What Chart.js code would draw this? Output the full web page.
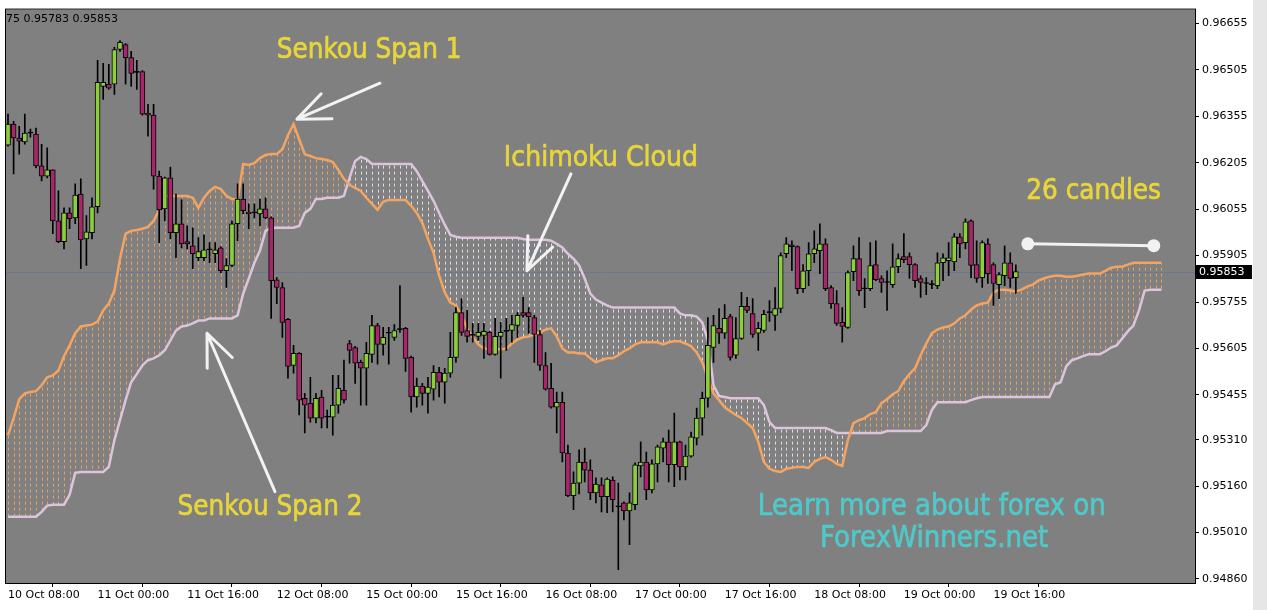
<!DOCTYPE html>
<html>
<head>
<meta charset="utf-8">
<title>Ichimoku Cloud</title>
<script src="https://cdn.jsdelivr.net/npm/chart.js@4.4.1/dist/chart.umd.min.js"></script>
<style>
  html, body { margin: 0; padding: 0; background: #fff; }
  canvas { display: block; }
</style>
</head>
<body>
<canvas id="chart" width="1267" height="610"></canvas>
<script>
// H1 candles
const opens = [
  0.96262,0.96330,0.96285,0.96272,0.96301,0.96298,0.96195,0.96162,0.96182,0.96017,
  0.95950,0.96043,0.96027,0.96104,0.95959,0.95979,0.96063,0.96452,0.96459,0.96459,
  0.96571,0.96587,0.96545,0.96497,0.96500,0.96365,0.96359,0.96162,0.96056,0.96156,
  0.95979,0.96008,0.95950,0.95937,0.95898,0.95898,0.95924,0.95911,0.95930,0.95856,
  0.95873,0.96008,0.96088,0.96046,0.96043,0.96040,0.96056,0.96027,0.95827,0.95802,
  0.95699,0.95550,0.95589,0.95444,0.95428,0.95380,0.95448,0.95383,0.95383,0.95422,
  0.95470,0.95621,0.95608,0.95560,0.95541,0.95586,0.95679,0.95618,0.95654,0.95641,
  0.95666,0.95670,0.95576,0.95448,0.95483,0.95460,0.95473,0.95528,0.95496,0.95525,
  0.95576,0.95721,0.95663,0.95647,0.95644,0.95647,0.95657,0.95586,0.95644,0.95660,
  0.95663,0.95679,0.95721,0.95721,0.95705,0.95650,0.95550,0.95476,0.95415,0.95431,
  0.95267,0.95129,0.95170,0.95238,0.95212,0.95138,0.95164,0.95126,0.95180,0.95093,
  0.95106,0.95080,0.95100,0.95225,0.95238,0.95148,0.95232,0.95283,0.95303,0.95229,
  0.95303,0.95222,0.95257,0.95315,0.95380,0.95444,0.95608,0.95670,0.95654,0.95708,
  0.95583,0.95637,0.95741,0.95718,0.95654,0.95663,0.95721,0.95712,0.95734,0.95911,
  0.95940,0.95934,0.95798,0.95856,0.95911,0.95921,0.95943,0.95802,0.95750,0.95689,
  0.95673,0.95853,0.95895,0.95798,0.95798,0.95876,0.95831,0.95818,0.95811,0.95869,
  0.95902,0.95902,0.95876,0.95831,0.95815,0.95811,0.95808,0.95882,0.95889,0.95885,
  0.95966,0.95947,0.96017,0.95876,0.95834,0.95943,0.95876,0.95811,0.95840,0.95882,
  0.95834
];
const highs = [
  0.96362,0.96339,0.96323,0.96362,0.96314,0.96317,0.96265,0.96253,0.96182,0.96114,
  0.96059,0.96059,0.96137,0.96153,0.96034,0.96092,0.96536,0.96526,0.96523,0.96578,
  0.96600,0.96590,0.96565,0.96536,0.96503,0.96394,0.96394,0.96178,0.96159,0.96191,
  0.96104,0.96085,0.96001,0.95995,0.95963,0.95972,0.95947,0.95947,0.95934,0.95895,
  0.96017,0.96137,0.96137,0.96072,0.96072,0.96088,0.96092,0.96030,0.95834,0.95818,
  0.95702,0.95615,0.95592,0.95460,0.95512,0.95460,0.95470,0.95406,0.95518,0.95518,
  0.95567,0.95631,0.95612,0.95567,0.95625,0.95712,0.95686,0.95673,0.95673,0.95682,
  0.95808,0.95673,0.95580,0.95509,0.95492,0.95512,0.95550,0.95544,0.95541,0.95657,
  0.95737,0.95766,0.95728,0.95686,0.95686,0.95686,0.95660,0.95702,0.95689,0.95702,
  0.95712,0.95721,0.95770,0.95737,0.95712,0.95663,0.95592,0.95557,0.95464,0.95464,
  0.95293,0.95206,0.95277,0.95283,0.95245,0.95187,0.95187,0.95187,0.95190,0.95170,
  0.95109,0.95138,0.95235,0.95303,0.95270,0.95245,0.95293,0.95315,0.95341,0.95396,
  0.95306,0.95293,0.95335,0.95412,0.95464,0.95705,0.95712,0.95734,0.95747,0.95715,
  0.95705,0.95786,0.95770,0.95766,0.95689,0.95728,0.95760,0.95802,0.95914,0.95963,
  0.95953,0.95937,0.95876,0.95947,0.95985,0.96008,0.95959,0.95808,0.95792,0.95737,
  0.95856,0.95937,0.95963,0.95831,0.95947,0.95953,0.95840,0.95856,0.95943,0.95911,
  0.95976,0.95914,0.95879,0.95840,0.95834,0.95824,0.95914,0.95911,0.95947,0.95976,
  0.95976,0.96024,0.96021,0.95953,0.95953,0.95959,0.95882,0.95850,0.95937,0.95914,
  0.95875
];
const lows = [
  0.96259,0.96169,0.96233,0.96265,0.96288,0.96188,0.96146,0.96156,0.95976,0.95947,
  0.95927,0.95992,0.96008,0.95863,0.95873,0.95959,0.96043,0.96410,0.96442,0.96426,
  0.96565,0.96459,0.96452,0.96442,0.96359,0.96291,0.96120,0.95947,0.96017,0.95959,
  0.95898,0.95930,0.95927,0.95863,0.95889,0.95889,0.95882,0.95882,0.95850,0.95802,
  0.95869,0.95953,0.96040,0.95992,0.96027,0.96001,0.96024,0.95702,0.95750,0.95641,
  0.95509,0.95525,0.95390,0.95332,0.95367,0.95364,0.95348,0.95348,0.95325,0.95396,
  0.95428,0.95557,0.95492,0.95422,0.95422,0.95560,0.95554,0.95583,0.95554,0.95631,
  0.95657,0.95531,0.95399,0.95415,0.95422,0.95396,0.95438,0.95448,0.95428,0.95512,
  0.95560,0.95647,0.95625,0.95625,0.95631,0.95573,0.95583,0.95583,0.95509,0.95599,
  0.95625,0.95641,0.95705,0.95654,0.95560,0.95534,0.95470,0.95412,0.95332,0.95238,
  0.95126,0.95084,0.95135,0.95174,0.95116,0.95106,0.95077,0.95074,0.95077,0.94890,
  0.95051,0.94971,0.95084,0.95190,0.95116,0.95138,0.95174,0.95238,0.95174,0.95158,
  0.95180,0.95180,0.95254,0.95293,0.95325,0.95415,0.95560,0.95621,0.95637,0.95567,
  0.95573,0.95634,0.95721,0.95641,0.95599,0.95657,0.95692,0.95663,0.95721,0.95898,
  0.95856,0.95782,0.95786,0.95808,0.95882,0.95847,0.95792,0.95734,0.95679,0.95625,
  0.95670,0.95824,0.95776,0.95737,0.95792,0.95824,0.95786,0.95728,0.95802,0.95850,
  0.95882,0.95831,0.95802,0.95770,0.95779,0.95798,0.95798,0.95824,0.95840,0.95856,
  0.95898,0.95927,0.95834,0.95818,0.95802,0.95815,0.95744,0.95766,0.95808,0.95802,
  0.95783
];
const closes = [
  0.96330,0.96285,0.96275,0.96301,0.96301,0.96195,0.96162,0.96182,0.96017,0.95950,
  0.96043,0.96024,0.96101,0.95956,0.95982,0.96063,0.96465,0.96465,0.96446,0.96571,
  0.96594,0.96545,0.96494,0.96497,0.96362,0.96359,0.96162,0.96053,0.96156,0.95979,
  0.96008,0.95943,0.95943,0.95911,0.95918,0.95924,0.95924,0.95924,0.95856,0.95873,
  0.96008,0.96088,0.96050,0.96040,0.96043,0.96056,0.96027,0.95824,0.95802,0.95689,
  0.95547,0.95589,0.95438,0.95422,0.95380,0.95444,0.95380,0.95383,0.95422,0.95476,
  0.95438,0.95599,0.95557,0.95541,0.95589,0.95679,0.95618,0.95641,0.95654,0.95663,
  0.95666,0.95573,0.95448,0.95483,0.95460,0.95480,0.95528,0.95496,0.95525,0.95576,
  0.95721,0.95657,0.95644,0.95647,0.95657,0.95660,0.95586,0.95644,0.95657,0.95660,
  0.95682,0.95712,0.95712,0.95708,0.95650,0.95550,0.95473,0.95415,0.95431,0.95267,
  0.95129,0.95170,0.95238,0.95212,0.95138,0.95167,0.95126,0.95183,0.95116,0.95093,
  0.95080,0.95106,0.95229,0.95238,0.95148,0.95232,0.95287,0.95303,0.95229,0.95303,
  0.95222,0.95257,0.95319,0.95380,0.95444,0.95615,0.95679,0.95654,0.95702,0.95576,
  0.95637,0.95741,0.95728,0.95650,0.95670,0.95715,0.95721,0.95734,0.95905,0.95943,
  0.95934,0.95798,0.95856,0.95911,0.95927,0.95943,0.95798,0.95750,0.95686,0.95676,
  0.95850,0.95895,0.95792,0.95798,0.95873,0.95827,0.95818,0.95818,0.95869,0.95895,
  0.95892,0.95876,0.95824,0.95818,0.95815,0.95811,0.95882,0.95898,0.95898,0.95966,
  0.95943,0.96014,0.95873,0.95831,0.95947,0.95847,0.95815,0.95844,0.95882,0.95831,
  0.95853
];

// Senkou spans, shifted 26 bars ahead of the last candle
const spanA = [
  0.95325,0.95380,0.95441,0.95460,0.95464,0.95467,0.95486,0.95512,0.95518,0.95534,
  0.95580,0.95615,0.95654,0.95676,0.95679,0.95682,0.95692,0.95728,0.95750,0.95792,
  0.95895,0.95976,0.95985,0.95988,0.95992,0.95998,0.96017,0.96053,0.96098,0.96098,
  0.96098,0.96098,0.96098,0.96092,0.96059,0.96092,0.96114,0.96127,0.96120,0.96098,
  0.96088,0.96085,0.96201,0.96198,0.96204,0.96220,0.96230,0.96233,0.96233,0.96249,
  0.96294,0.96330,0.96281,0.96233,0.96227,0.96220,0.96217,0.96214,0.96207,0.96182,
  0.96153,0.96133,0.96124,0.96114,0.96092,0.96072,0.96053,0.96079,0.96085,0.96085,
  0.96085,0.96085,0.96066,0.96043,0.96011,0.95959,0.95914,0.95840,0.95786,0.95753,
  0.95744,0.95712,0.95670,0.95641,0.95618,0.95605,0.95602,0.95602,0.95602,0.95605,
  0.95621,0.95634,0.95641,0.95644,0.95650,0.95657,0.95666,0.95670,0.95644,0.95605,
  0.95592,0.95592,0.95589,0.95589,0.95573,0.95560,0.95567,0.95573,0.95573,0.95583,
  0.95596,0.95605,0.95618,0.95625,0.95625,0.95625,0.95625,0.95618,0.95625,0.95628,
  0.95628,0.95621,0.95612,0.95592,0.95560,0.95509,0.95460,0.95438,0.95415,0.95402,
  0.95390,0.95380,0.95364,0.95348,0.95303,0.95238,0.95216,0.95209,0.95206,0.95216,
  0.95219,0.95222,0.95222,0.95219,0.95238,0.95248,0.95254,0.95245,0.95232,0.95225,
  0.95309,0.95364,0.95373,0.95380,0.95393,0.95399,0.95428,0.95441,0.95457,0.95467,
  0.95499,0.95522,0.95541,0.95583,0.95621,0.95654,0.95666,0.95673,0.95676,0.95686,
  0.95702,0.95712,0.95731,0.95744,0.95750,0.95753,0.95786,0.95795,0.95795,0.95792,
  0.95789,0.95795,0.95805,0.95811,0.95824,0.95831,0.95837,0.95840,0.95840,0.95837,
  0.95837,0.95840,0.95844,0.95847,0.95847,0.95847,0.95856,0.95866,0.95869,0.95869,
  0.95876,0.95882,0.95882,0.95882,0.95882,0.95882,0.95882
];
const spanB = [
  0.95061,0.95061,0.95061,0.95061,0.95061,0.95061,0.95077,0.95097,0.95100,0.95100,
  0.95100,0.95132,0.95203,0.95206,0.95206,0.95206,0.95206,0.95206,0.95222,0.95309,
  0.95373,0.95438,0.95496,0.95522,0.95550,0.95567,0.95573,0.95583,0.95599,0.95631,
  0.95663,0.95676,0.95679,0.95686,0.95695,0.95695,0.95702,0.95702,0.95702,0.95702,
  0.95702,0.95712,0.95782,0.95831,0.95882,0.95921,0.95985,0.95995,0.95995,0.95995,
  0.95995,0.95995,0.96001,0.96043,0.96056,0.96088,0.96088,0.96092,0.96092,0.96092,
  0.96098,0.96156,0.96211,0.96224,0.96217,0.96201,0.96201,0.96201,0.96201,0.96201,
  0.96201,0.96201,0.96201,0.96178,0.96146,0.96114,0.96082,0.96043,0.96005,0.95972,
  0.95966,0.95963,0.95963,0.95963,0.95963,0.95963,0.95963,0.95963,0.95963,0.95963,
  0.95963,0.95963,0.95959,0.95956,0.95956,0.95956,0.95956,0.95953,0.95943,0.95931,
  0.95911,0.95895,0.95873,0.95831,0.95782,0.95763,0.95753,0.95744,0.95737,0.95737,
  0.95737,0.95737,0.95737,0.95737,0.95737,0.95737,0.95737,0.95737,0.95737,0.95737,
  0.95718,0.95712,0.95712,0.95708,0.95689,0.95631,0.95486,0.95451,0.95448,0.95444,
  0.95444,0.95444,0.95444,0.95444,0.95444,0.95422,0.95367,0.95348,0.95348,0.95348,
  0.95348,0.95348,0.95348,0.95348,0.95348,0.95348,0.95348,0.95341,0.95332,0.95332,
  0.95332,0.95332,0.95332,0.95332,0.95332,0.95332,0.95332,0.95338,0.95338,0.95338,
  0.95338,0.95338,0.95338,0.95338,0.95357,0.95406,0.95431,0.95431,0.95431,0.95431,
  0.95431,0.95431,0.95438,0.95444,0.95448,0.95448,0.95448,0.95448,0.95448,0.95448,
  0.95448,0.95448,0.95448,0.95448,0.95448,0.95448,0.95448,0.95489,0.95496,0.95547,
  0.95567,0.95573,0.95580,0.95586,0.95586,0.95586,0.95596,0.95608,0.95615,0.95637,
  0.95660,0.95679,0.95728,0.95792,0.95795,0.95795,0.95795
];

const timeLabels = ['10 Oct 08:00', '11 Oct 00:00', '11 Oct 16:00', '12 Oct 08:00',
  '15 Oct 00:00', '15 Oct 16:00', '16 Oct 08:00', '17 Oct 00:00', '17 Oct 16:00',
  '18 Oct 08:00', '19 Oct 00:00', '19 Oct 16:00'];
const labelStep = 16;
const priceTicks = [0.96655, 0.96505, 0.96355, 0.96205, 0.96055, 0.95905, 0.95755,
  0.95605, 0.95455, 0.95310, 0.95160, 0.95010, 0.94860];
const header = '75 0.95783 0.95853';

const lastPrice = closes[closes.length - 1];
const yMin = 0.94847, yMax = 0.96700;
const xMin = -0.36, xMax = 212;

const yellow = '#e8d63a', cyan = '#4fc9c9';

// text and arrows, anchored in (bar index, price)
const notes = [
  { text: 'Senkou Span 1', x: 64.5, y: 0.96568, color: yellow, size: 28 },
  { text: 'Ichimoku Cloud', x: 105.9, y: 0.96220, color: yellow, size: 28.5 },
  { text: 'Senkou Span 2', x: 46.8, y: 0.95090, color: yellow, size: 28 },
  { text: '26 candles', x: 193.9, y: 0.96111, color: yellow, size: 28 },
  { text: 'Learn more about forex on', x: 165.0, y: 0.95093, color: cyan, size: 29.5 },
  { text: 'ForexWinners.net', x: 165.4, y: 0.94987, color: cyan, size: 29.5 }
];
const arrows = [
  { from: [66.43, 0.96462], to: [51.61, 0.96346] },
  { from: [100.54, 0.96169], to: [92.68, 0.95856] },
  { from: [47.68, 0.95142], to: [35.54, 0.95654] }
];
const span26 = { from: [182.14, 0.95943], to: [204.64, 0.95937] };

const bull = '#8ccf3c', bear = '#a8266a';
const bodies = opens.map((o, i) => ({ x: i, y: [o, closes[i]] }));
const wicks = lows.map((l, i) => ({ x: i, y: [l, highs[i]] }));
const bodyColors = opens.map((o, i) => closes[i] > o ? bull : (closes[i] < o ? bear : '#000'));

const overlay = {
  id: 'overlay',
  beforeDraw(chart) {
    const { ctx, chartArea: a } = chart;
    ctx.save();
    ctx.fillStyle = '#fff';
    ctx.fillRect(0, 0, chart.width, chart.height);
    ctx.fillStyle = '#e6e6e6';
    ctx.fillRect(1253, 0, chart.width - 1253, chart.height);
    ctx.fillStyle = '#808080';
    ctx.fillRect(a.left, a.top, a.right - a.left, a.bottom - a.top);
    ctx.restore();
  },
  beforeDatasetsDraw(chart) {
    const { ctx, chartArea: a } = chart;
    const xs = chart.scales.x, ys = chart.scales.y;
    ctx.save();
    ctx.beginPath();
    ctx.rect(a.left, a.top, a.right - a.left, a.bottom - a.top);
    ctx.clip();

    const py = Math.round(ys.getPixelForValue(lastPrice)) + 0.5;
    ctx.strokeStyle = '#6b7890';
    ctx.lineWidth = 1;
    ctx.beginPath();
    ctx.moveTo(a.left, py);
    ctx.lineTo(a.right, py);
    ctx.stroke();

    // dotted cloud, one column per bar
    ctx.setLineDash([3, 3]);
    for (let i = 0; i < spanA.length; i++) {
      const px = Math.round(xs.getPixelForValue(i)) + 0.5;
      const ya = ys.getPixelForValue(spanA[i]);
      const yb = ys.getPixelForValue(spanB[i]);
      const top = Math.min(ya, yb), bot = Math.max(ya, yb);
      ctx.strokeStyle = spanA[i] >= spanB[i] ? '#e3a266' : '#dcdde6';
      ctx.lineDashOffset = (top - a.top) % 6;
      ctx.beginPath();
      ctx.moveTo(px, top);
      ctx.lineTo(px, bot);
      ctx.stroke();
    }
    ctx.restore();
  },
  afterDraw(chart) {
    const { ctx, chartArea: a } = chart;
    const xs = chart.scales.x, ys = chart.scales.y;
    const X = v => xs.getPixelForValue(v), Y = v => ys.getPixelForValue(v);
    ctx.save();

    ctx.strokeStyle = '#000';
    ctx.lineWidth = 1;
    ctx.strokeRect(a.left - 0.5, a.top - 0.5, a.right - a.left + 1, a.bottom - a.top + 1);

    ctx.font = '11px "DejaVu Sans"';
    ctx.fillStyle = '#000';
    ctx.textAlign = 'left';
    ctx.textBaseline = 'middle';
    ctx.fillText(header, a.left, a.top + 10);

    // last price tag
    const ty = Math.round(Y(lastPrice));
    ctx.fillStyle = '#000';
    ctx.fillRect(a.right + 1, ty - 7, 56, 14);
    ctx.fillStyle = '#fff';
    ctx.fillText(lastPrice.toFixed(5), a.right + 4, ty + 0.5);

    // arrows
    ctx.strokeStyle = '#f2f2f2';
    ctx.lineWidth = 3;
    ctx.lineCap = 'round';
    arrows.forEach(ar => {
      const x1 = X(ar.from[0]), y1 = Y(ar.from[1]);
      const x2 = X(ar.to[0]), y2 = Y(ar.to[1]);
      const ang = Math.atan2(y1 - y2, x1 - x2);
      ctx.beginPath();
      ctx.moveTo(x1, y1);
      ctx.lineTo(x2, y2);
      [-0.4, 0.4].forEach(d => {
        ctx.moveTo(x2, y2);
        ctx.lineTo(x2 + 35 * Math.cos(ang + d), y2 + 35 * Math.sin(ang + d));
      });
      ctx.stroke();
    });

    // 26 candles marker
    const sx1 = X(span26.from[0]), sy1 = Y(span26.from[1]);
    const sx2 = X(span26.to[0]), sy2 = Y(span26.to[1]);
    ctx.beginPath();
    ctx.moveTo(sx1, sy1);
    ctx.lineTo(sx2, sy2);
    ctx.stroke();
    ctx.fillStyle = '#f2f2f2';
    [[sx1, sy1], [sx2, sy2]].forEach(p => {
      ctx.beginPath();
      ctx.arc(p[0], p[1], 6.5, 0, Math.PI * 2);
      ctx.fill();
    });

    // labels
    ctx.textAlign = 'center';
    ctx.textBaseline = 'middle';
    ctx.lineWidth = 0.7;
    notes.forEach(n => {
      ctx.save();
      ctx.font = n.size + 'px "DejaVu Sans"';
      ctx.translate(X(n.x), Y(n.y));
      ctx.scale(0.885, 1);
      ctx.fillStyle = n.color;
      ctx.strokeStyle = n.color;
      ctx.fillText(n.text, 0, 0);
      ctx.strokeText(n.text, 0, 0);
      ctx.restore();
    });
    ctx.restore();
  }
};

Chart.defaults.font.family = '"DejaVu Sans"';
Chart.defaults.font.size = 11;
Chart.defaults.color = '#000';

new Chart(document.getElementById('chart'), {
  type: 'line',
  data: {
    datasets: [
      {
        type: 'bar', data: bodies, backgroundColor: bodyColors,
        borderColor: '#000', borderWidth: 1, borderSkipped: false,
        barThickness: 5, minBarLength: 1, grouped: false, order: 0
      },
      {
        type: 'bar', data: wicks, backgroundColor: '#000',
        barThickness: 1, grouped: false, order: 1
      },
      {
        type: 'line', data: spanA.map((v, i) => ({ x: i, y: v })),
        borderColor: '#f4a460', borderWidth: 2.5, pointRadius: 0, fill: false, order: 2
      },
      {
        type: 'line', data: spanB.map((v, i) => ({ x: i, y: v })),
        borderColor: '#dcc4dc', borderWidth: 2.5, pointRadius: 0, fill: false, order: 3
      }
    ]
  },
  options: {
    responsive: false,
    animation: false,
    devicePixelRatio: 1,
    layout: { padding: { left: 6, top: 8, right: 0, bottom: 0 } },
    plugins: { legend: { display: false }, tooltip: { enabled: false } },
    scales: {
      x: {
        type: 'linear', min: xMin, max: xMax, offset: false,
        afterBuildTicks: s => { s.ticks = timeLabels.map((t, k) => ({ value: k * labelStep })); },
        afterFit: s => { s.height = 27; },
        grid: { drawOnChartArea: false, tickLength: 4, color: '#000' },
        border: { display: true, color: '#000' },
        ticks: {
          align: 'start', autoSkip: false, maxRotation: 0, padding: 2,
          callback: (v, k) => timeLabels[k]
        }
      },
      y: {
        position: 'right', min: yMin, max: yMax,
        afterBuildTicks: s => { s.ticks = priceTicks.map(v => ({ value: v })); },
        afterFit: s => { s.width = 72; },
        grid: { drawOnChartArea: false, tickLength: 4, color: '#000' },
        border: { display: true, color: '#000' },
        ticks: { autoSkip: false, padding: 3, callback: v => v.toFixed(5) }
      }
    }
  },
  plugins: [overlay]
});
</script>
</body>
</html>
